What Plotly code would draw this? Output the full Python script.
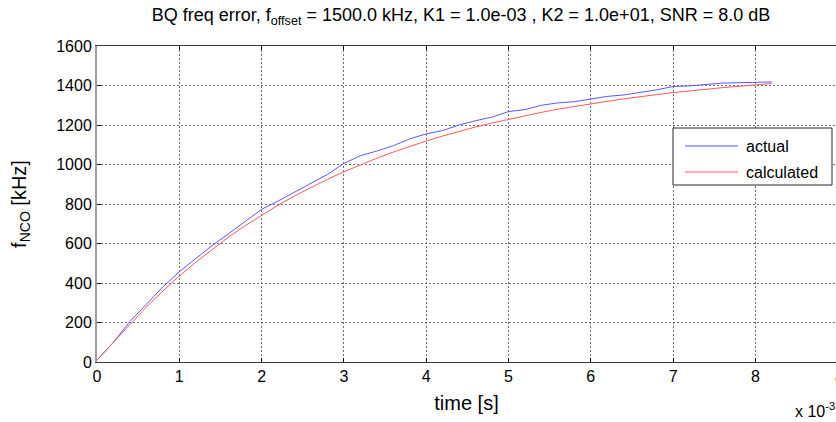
import plotly.graph_objects as go

# time axis in units of 1e-3 s
t = [0.0, 0.2, 0.4, 0.6, 0.8, 1.0, 1.2, 1.4, 1.6, 1.8, 2.0, 2.2, 2.4, 2.6, 2.8,
     3.0, 3.2, 3.4, 3.6, 3.8, 4.0, 4.2, 4.4, 4.6, 4.8, 5.0, 5.2, 5.4, 5.6, 5.8,
     6.0, 6.2, 6.4, 6.6, 6.8, 7.0, 7.2, 7.4, 7.6, 7.8, 8.0, 8.2]

actual = [10, 100, 205, 295, 380, 457, 525, 590, 650, 712, 773, 815, 860, 902, 950,
          1005, 1045, 1068, 1095, 1130, 1155, 1172, 1200, 1222, 1240, 1268, 1278, 1300, 1312, 1318,
          1330, 1345, 1352, 1365, 1378, 1395, 1398, 1405, 1412, 1414, 1417, 1418]

calculated = [10, 99, 192, 279, 359, 435, 505, 571, 633, 690, 744, 794, 841, 884, 925,
              963, 999, 1032, 1063, 1092, 1119, 1144, 1168, 1190, 1210, 1229, 1247, 1264, 1280, 1294,
              1308, 1320, 1332, 1344, 1354, 1364, 1373, 1381, 1389, 1396, 1403, 1410]

x_ticks = [0, 1, 2, 3, 4, 5, 6, 7, 8]
y_ticks = [0, 200, 400, 600, 800, 1000, 1200, 1400, 1600]
series_names = ["actual", "calculated"]
series_colors = ["rgb(90,90,255)", "rgb(255,90,90)"]

FONT = "Liberation Sans, Arial, sans-serif"

fig = go.Figure()
for name, ys, col in zip(series_names, [actual, calculated], series_colors):
    fig.add_trace(go.Scatter(x=t, y=ys, mode="lines", name=name,
                             line=dict(color=col, width=1), showlegend=False))

W, H = 836, 422
L, R, T, B = 97, 0, 46, 60
pw = W - L - R
ph = H - T - B


def px(xp):
    return (xp - L) / pw


def py(yp):
    return (H - B - yp) / ph


shapes = [
    # legend box
    dict(type="rect", xref="paper", yref="paper", x0=px(673), x1=px(832), y0=py(185), y1=py(128),
         line=dict(color="rgb(40,40,40)", width=1), fillcolor="white", layer="above"),
]
annotations = []
for i, (name, col) in enumerate(zip(series_names, series_colors)):
    yc = 146 + i * 26
    shapes.append(dict(type="line", xref="paper", yref="paper", x0=px(685), x1=px(738),
                       y0=py(yc), y1=py(yc), line=dict(color=col, width=1), layer="above"))
    annotations.append(dict(text=name, xref="paper", yref="paper", x=px(744), y=py(yc),
                            xanchor="left", yanchor="middle", showarrow=False,
                            font=dict(family=FONT, size=16, color="black")))

annotations += [
    dict(text="x 10<sup>-3</sup>", xref="paper", yref="paper",
         x=px(793), y=py(410), xanchor="left", yanchor="middle",
         showarrow=False, font=dict(family=FONT, size=16)),
    dict(text="9", xref="paper", yref="paper", x=px(839), y=py(381),
         xanchor="center", yanchor="middle", showarrow=False,
         font=dict(family=FONT, size=16)),
]

fig.update_layout(
    width=W, height=H,
    margin=dict(l=L, r=R, t=T, b=B),
    paper_bgcolor="white", plot_bgcolor="white",
    font=dict(family=FONT, size=16, color="black"),
    title=dict(text="BQ freq error, f<sub>offset</sub> = 1500.0 kHz, K1 = 1.0e-03 , K2 = 1.0e+01, SNR = 8.0 dB",
               x=461 / W, xref="container", xanchor="center",
               y=1 - 15 / H, yref="container", yanchor="middle",
               font=dict(family=FONT, size=18, color="black")),
    showlegend=False,
    xaxis=dict(range=[0, pw / 82.3], tickvals=x_ticks, ticktext=[str(v) for v in x_ticks],
               ticks="inside", ticklen=4, tickcolor="black", showline=True,
               linecolor="rgb(60,60,60)", linewidth=1, mirror="ticks",
               showgrid=True, gridcolor="rgb(110,110,110)", griddash="2px,2px", gridwidth=1,
               zeroline=False, tickfont=dict(family=FONT, size=16),
               title=dict(text="time [s]", font=dict(family=FONT, size=20), standoff=11)),
    yaxis=dict(range=[0, 1600], tickvals=y_ticks,
               ticks="inside", ticklen=4, tickcolor="black", showline=True,
               linecolor="rgb(160,160,160)", linewidth=2, mirror=False,
               showgrid=True, gridcolor="rgb(110,110,110)", griddash="2px,2px", gridwidth=1,
               zeroline=False, tickfont=dict(family=FONT, size=16),
               title=dict(text="f<sub>NCO</sub> [kHz]", font=dict(family=FONT, size=20), standoff=24)),
    shapes=shapes,
    annotations=annotations,
)

fig.write_html("out.html")
